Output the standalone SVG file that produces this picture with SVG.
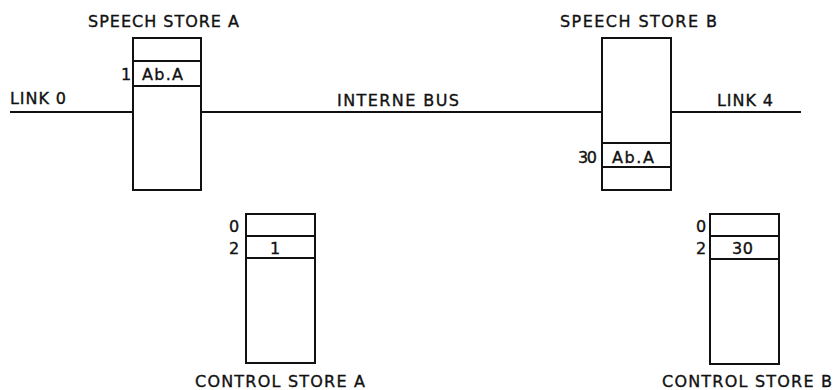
<svg xmlns="http://www.w3.org/2000/svg" width="834" height="390" viewBox="0 0 834 390">
<style>
.s{fill:none;stroke:#111;stroke-width:2}
.t{font-family:"DejaVu Sans","Liberation Sans",sans-serif;font-size:16px;fill:#111;stroke:#111;stroke-width:0.35}
</style>
<rect width="834" height="390" fill="#fff"/>
<g id="connectors">
<line class="s" x1="10" y1="112" x2="133" y2="112"/>
<line class="s" x1="201" y1="112" x2="602" y2="112"/>
<line class="s" x1="671" y1="112" x2="801" y2="112"/>
<text class="t" x="10" y="104" textLength="56" lengthAdjust="spacing">LINK 0</text>
<text class="t" x="337" y="106" textLength="122" lengthAdjust="spacing">INTERNE BUS</text>
<text class="t" x="717" y="106" textLength="56" lengthAdjust="spacing">LINK 4</text>
</g>
<g id="speech-store-a">
<text class="t" x="88" y="27" textLength="151" lengthAdjust="spacing">SPEECH STORE A</text>
<rect class="s" x="133" y="38" width="68" height="152"/>
<line class="s" x1="133" y1="61" x2="201" y2="61"/>
<line class="s" x1="133" y1="86" x2="201" y2="86"/>
<text class="t" x="121" y="80">1</text>
<text class="t" x="142" y="80" textLength="41" lengthAdjust="spacing">Ab.A</text>
</g>
<g id="speech-store-b">
<text class="t" x="560" y="27" textLength="157" lengthAdjust="spacing">SPEECH STORE B</text>
<rect class="s" x="602" y="38" width="69" height="152"/>
<line class="s" x1="602" y1="143" x2="671" y2="143"/>
<line class="s" x1="602" y1="167" x2="671" y2="167"/>
<text class="t" x="578" y="163" textLength="19" lengthAdjust="spacing">30</text>
<text class="t" x="612" y="163" textLength="42" lengthAdjust="spacing">Ab.A</text>
</g>
<g id="control-store-a">
<rect class="s" x="246" y="214" width="69" height="149"/>
<line class="s" x1="246" y1="236" x2="315" y2="236"/>
<line class="s" x1="246" y1="258" x2="315" y2="258"/>
<text class="t" x="229" y="232">0</text>
<text class="t" x="229" y="254">2</text>
<text class="t" x="270" y="254">1</text>
<text class="t" x="195" y="387" textLength="170" lengthAdjust="spacing">CONTROL STORE A</text>
</g>
<g id="control-store-b">
<rect class="s" x="710" y="214" width="69" height="150"/>
<line class="s" x1="710" y1="236" x2="779" y2="236"/>
<line class="s" x1="710" y1="259" x2="779" y2="259"/>
<text class="t" x="696" y="232">0</text>
<text class="t" x="696" y="254">2</text>
<text class="t" x="732" y="254" textLength="21" lengthAdjust="spacing">30</text>
<text class="t" x="662" y="387" textLength="170" lengthAdjust="spacing">CONTROL STORE B</text>
</g>
</svg>
